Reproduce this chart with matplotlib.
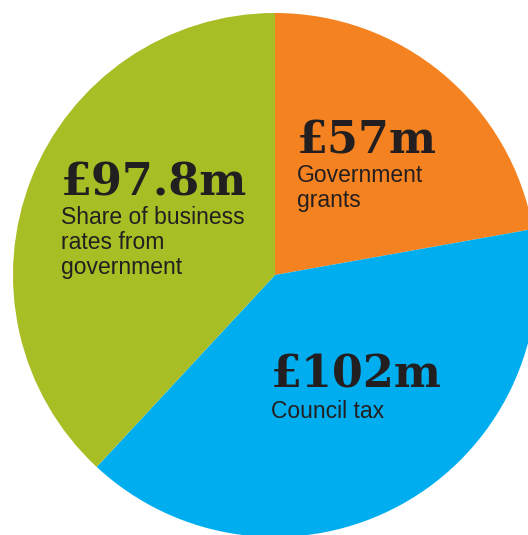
import matplotlib.pyplot as plt

# data
labels = ["Government\ngrants", "Council tax", "Share of business\nrates from\ngovernment"]
amounts = [57, 102, 97.8]
value_labels = ["£57m", "£102m", "£97.8m"]
colors = ["#F58220", "#00AEEF", "#A9BD25"]

W, H = 528, 535
fig = plt.figure(figsize=(W / 100, H / 100), dpi=100, facecolor="white")
ax = fig.add_axes([0, 0, 1, 1])

# pie, clockwise from 12 o'clock; right side runs past the edge
ax.pie(amounts, colors=colors, startangle=90, counterclock=False,
       center=(275, H - 275), radius=262, frame=True,
       wedgeprops=dict(linewidth=0))
ax.set_xlim(0, W)
ax.set_ylim(0, H)
ax.axis("off")

# label positions (x, baseline of big number, top of small text) in pixels from top
pos = [(297, 153, 164), (271, 388, 400), (61, 195, 206)]
dark = "#231F20"
for (x, yb, yt), val, lab in zip(pos, value_labels, labels):
    ax.text(x, H - yb, val, fontsize=32, fontweight="bold", family="DejaVu Serif",
            color=dark, ha="left", va="baseline")
    ax.text(x, H - yt, lab, fontsize=16.5, family="Liberation Sans",
            color=dark, ha="left", va="top", linespacing=1.1)

plt.savefig("out.png", dpi=100, facecolor="white")
